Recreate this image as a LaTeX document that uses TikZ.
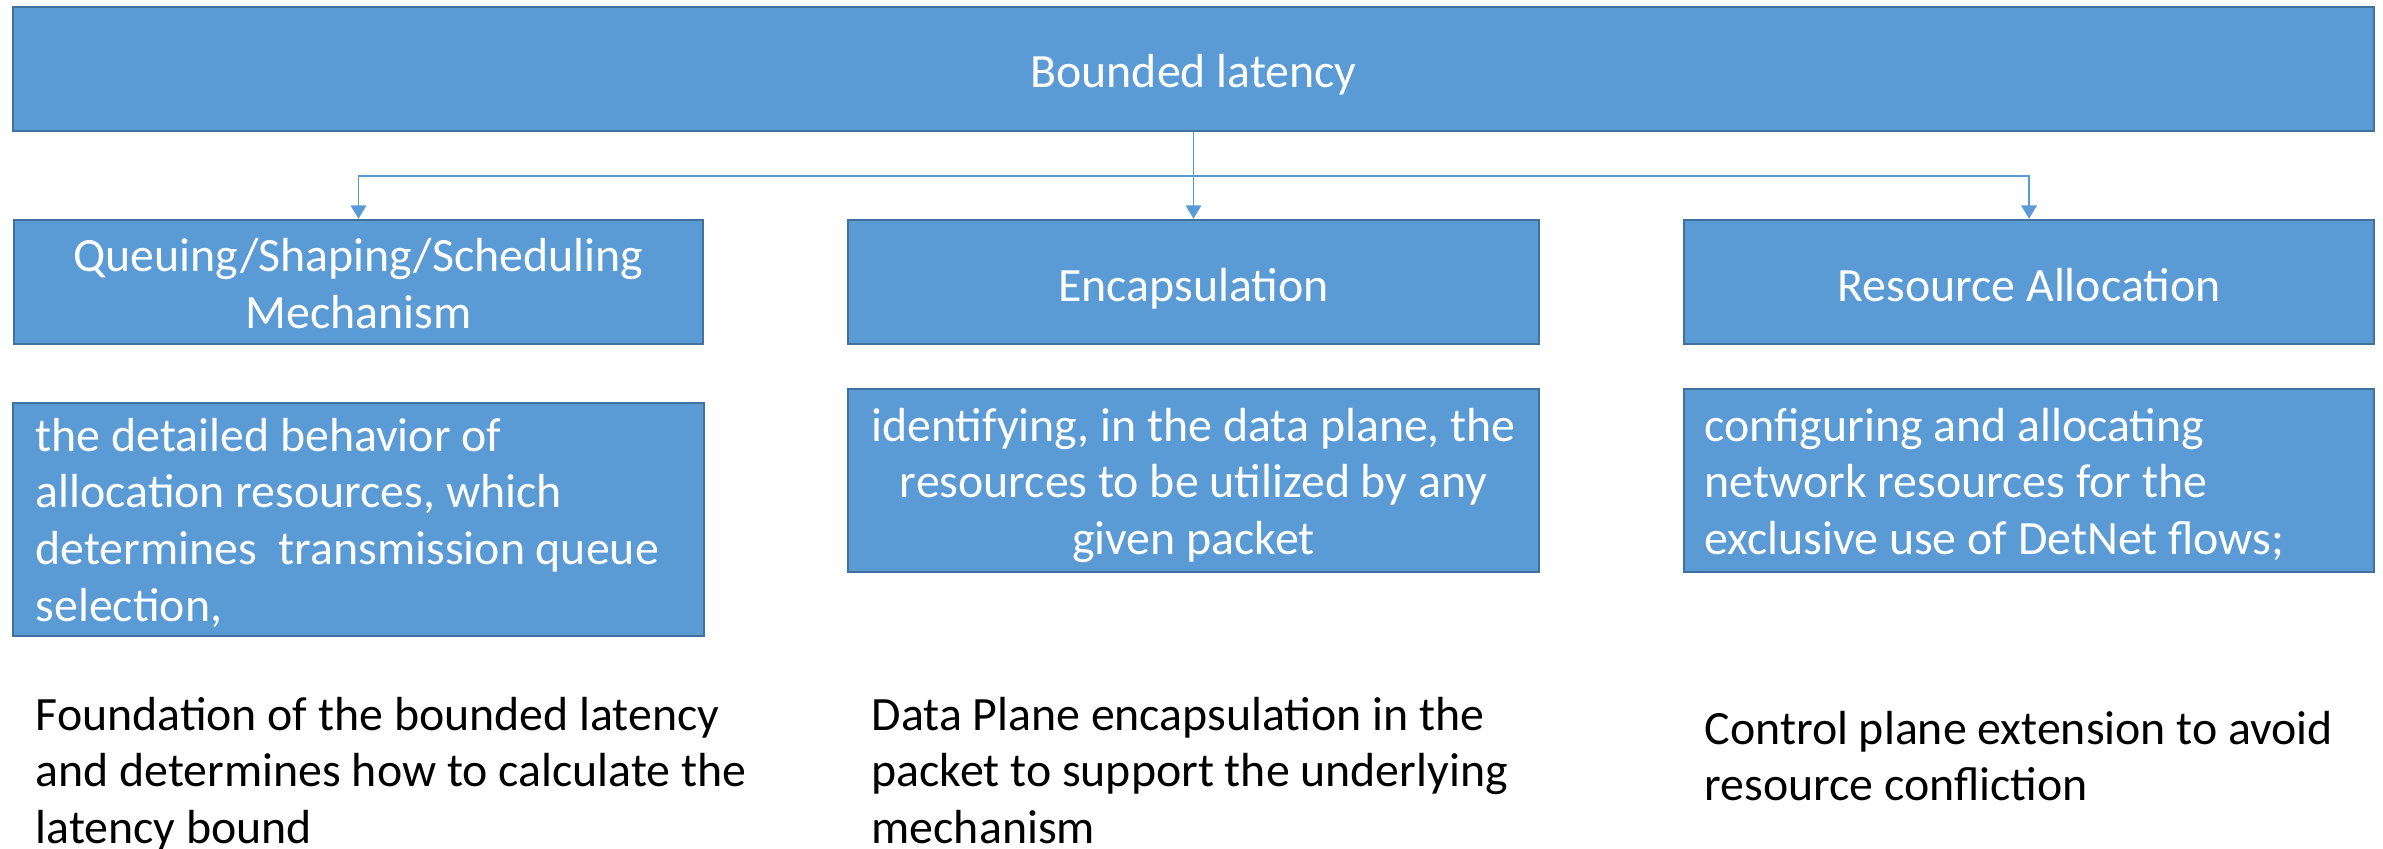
\documentclass[tikz,border=0pt]{standalone}
\usepackage{fontspec}
\setmainfont{Carlito}
\usetikzlibrary{arrows.meta}
\definecolor{boxfill}{HTML}{5B9BD5}
\definecolor{boxline}{HTML}{41719C}
\newcommand{\bodyfont}{\fontsize{13.6}{16.2}\selectfont}
% multi-line text whose baseline is that of its first line
\newcommand{\leftstack}[1]{\begin{tabular}[t]{@{}l@{}}#1\end{tabular}}
\newcommand{\midstack}[1]{\begin{tabular}[t]{@{}c@{}}#1\end{tabular}}
\tikzset{
  box/.style={draw=boxline, line width=0.65pt, fill=boxfill, inner sep=0pt},
  conn/.style={draw=boxfill, line width=0.45pt},
  tip/.style={-{Triangle[length=3.8pt,width=4.4pt]}},
  lines/.style={inner sep=0pt, font=\bodyfont},
  leftlines/.style={lines, anchor=base west},
  midlines/.style={lines, anchor=base},
  onbox/.style={text=white},
}
\begin{document}
\begin{tikzpicture}[x=0.01cm, y=-0.01cm]
  \useasboundingbox (0,0) rectangle (2383,849);

  % boxes
  \node[box, minimum width=23.59cm, minimum height=1.24cm] (top) at (1193.5,69) {};
  \node[box, minimum width=6.89cm, minimum height=1.24cm] (queue) at (358.5,282) {};
  \node[box, minimum width=6.91cm, minimum height=1.24cm] (encap) at (1193.5,282) {};
  \node[box, minimum width=6.90cm, minimum height=1.24cm] (alloc) at (2029,282) {};
  \node[box, minimum width=6.91cm, minimum height=2.33cm] (dqueue) at (358.5,519.5) {};
  \node[box, minimum width=6.91cm, minimum height=1.83cm] (dencap) at (1193.5,480.5) {};
  \node[box, minimum width=6.90cm, minimum height=1.83cm] (dalloc) at (2029,480.5) {};

  % box texts
  \node[midlines, onbox] (ttop) at (1193.5,88) {Bounded latency};
  \node[midlines, onbox] (tqueue) at (358.5,272)
    {\midstack{Queuing/Shaping/Scheduling\\Mechanism}};
  \node[midlines, onbox] (tencap) at (1193.5,302) {Encapsulation};
  \node[midlines, onbox] (talloc) at (2029,302) {Resource Allocation};
  \node[leftlines, onbox] (tdqueue) at (35,451)
    {\leftstack{the detailed behavior of\\allocation resources, which\\determines~~transmission queue\\selection,}};
  \node[midlines, onbox] (tdencap) at (1193.5,441)
    {\midstack{identifying, in the data plane, the\\resources to be utilized by any\\given packet}};
  \node[leftlines, onbox] (tdalloc) at (1704,441)
    {\leftstack{configuring and allocating\\network resources for the\\exclusive use of DetNet flows;}};

  % captions below
  \node[leftlines] (cqueue) at (35,730)
    {\leftstack{Foundation of the bounded latency\\and determines how to calculate the\\latency bound}};
  \node[leftlines] (cencap) at (871,730)
    {\leftstack{Data Plane encapsulation in the\\packet to support the underlying\\mechanism}};
  \node[leftlines] (calloc) at (1704,744)
    {\leftstack{Control plane extension to avoid\\resource confliction}};

  % connectors from the heading
  \coordinate (hub) at (top.south |- 0,176);
  \draw[conn, tip] (top.south) -- (encap.north);
  \draw[conn, tip] (hub) -| (queue.north);
  \draw[conn, tip] (hub) -| (alloc.north);
\end{tikzpicture}
\end{document}
